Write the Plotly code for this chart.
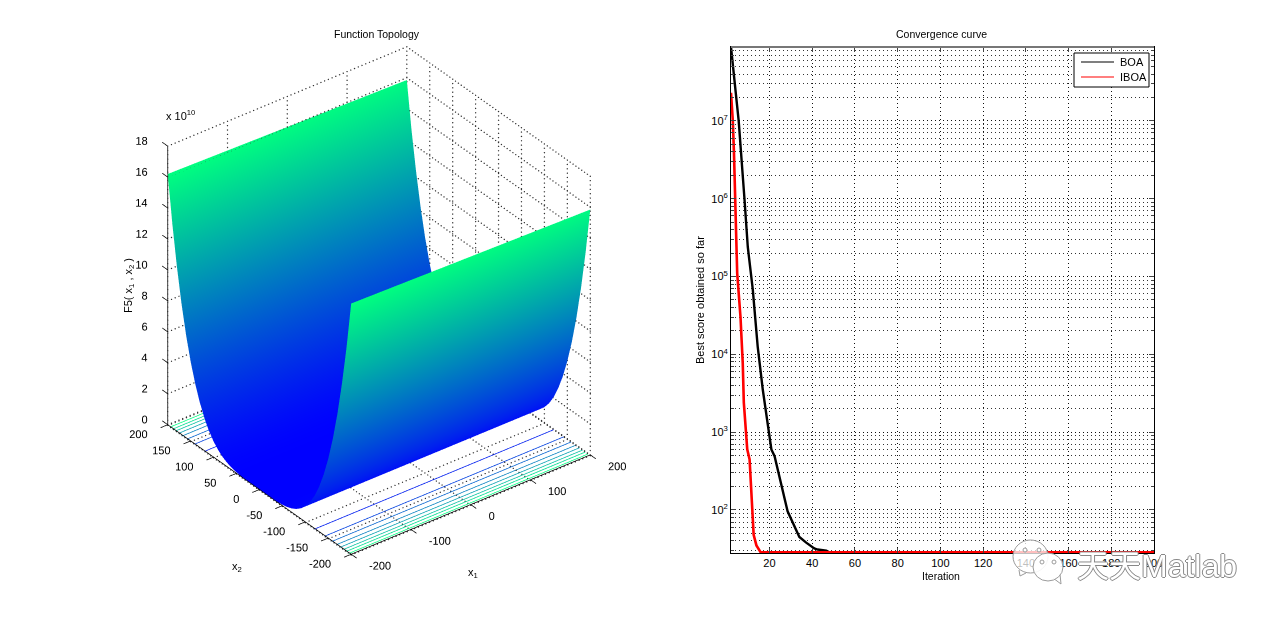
import math
import plotly.graph_objects as go

# ---------- data ----------
x1_range = [-200, 200]
x2_grid = [-200,-190,-180,-170,-160,-150,-140,-130,-120,-110,-100,-90,-80,-70,-60,-50,-40,-30,-20,-10,0,
           10,20,30,40,50,60,70,80,90,100,110,120,130,140,150,160,170,180,190,200]
z_half = [16.0,13.03,10.5,8.35,6.55,5.06,3.84,2.86,2.07,1.46,1.0,0.656,0.41,0.24,0.13,0.0625,0.026,0.008,0.0016,0.0,0.0]
z_profile = z_half + z_half[-2::-1]
z_edge_shift = [0.2, -0.15]
x1_ticks = [-200, -100, 0, 100, 200]
x2_ticks = [-200, -150, -100, -50, 0, 50, 100, 150, 200]
z_ticks = [0, 2, 4, 6, 8, 10, 12, 14, 16, 18]
contour_x2 = [120, 142, 158, 168, 176, 183, 189, 195]
contour_level = [0.12, 0.25, 0.38, 0.5, 0.62, 0.75, 0.87, 1.0]

boa_x = [2, 3.8, 5.6, 8.3, 9.86, 12.2, 14.5, 16.9, 20, 20.9, 22.4, 24, 26.3, 28.5, 31, 34, 37.2, 41, 42.5, 46.6, 48, 200]
boa_y = [8.9e7, 3e7, 1e7, 1e6, 2.4e5, 6.8e4, 1.26e4, 3480, 870, 600, 490, 316, 165, 96, 68, 45, 38, 32, 31, 30, 28.5, 28.5]
iboa_x = [2, 2.85, 3.4, 3.9, 4.9, 6.45, 7.5, 8.0, 9.1, 9.6, 10.7, 11.5, 12, 12.6, 13.9, 15.9, 200]
iboa_y = [2.3e7, 1.0e7, 3.8e6, 1.4e6, 1.1e5, 3e4, 7.7e3, 2.4e3, 840, 600, 447, 200, 100, 48, 35, 28.5, 28.5]
series_names = ["BOA", "IBOA"]
series_colors = ["black", "red"]
y_decades = [2, 3, 4, 5, 6, 7]
y_minor_mult = [2, 3, 4, 5, 6, 7, 8, 9]
x_ticks = [20, 40, 60, 80, 100, 120, 140, 160, 180, 200]

# the page has an 8px body margin: the figure covers 1264x605 inside the window
FW, FH = 1264, 605
FONT = "Liberation Sans"
def px(x): return (x - 8) / FW
def py(y): return 1 - (y - 8) / FH

fig = go.Figure()

# ---------- surface ----------
winter = [[0, "rgb(0,0,255)"], [1, "rgb(0,255,128)"]]
zz = [[z + s * (z / 16.0) for s in z_edge_shift] for z in z_profile]
fig.add_trace(go.Surface(x=x1_range, y=x2_grid, z=zz, colorscale=winter, cmin=0, cmax=16.2, showscale=False,
                         lighting=dict(ambient=1, diffuse=0, specular=0, fresnel=0, roughness=1),
                         hoverinfo="skip", showlegend=False, scene="scene"))

def line3d(pairs, color="#000000", width=1):
    xs, ys, zs = [], [], []
    for (a, b) in pairs:
        xs += [a[0], b[0], None]; ys += [a[1], b[1], None]; zs += [a[2], b[2], None]
    fig.add_trace(go.Scatter3d(x=xs, y=ys, z=zs, mode="lines", line=dict(color=color, width=width),
                               hoverinfo="skip", showlegend=False, scene="scene"))

def dotted(pairs, n=64):
    xs, ys, zs = [], [], []
    for (a, b) in pairs:
        for i in range(n + 1):
            t = i / n
            xs.append(a[0] + (b[0] - a[0]) * t); ys.append(a[1] + (b[1] - a[1]) * t); zs.append(a[2] + (b[2] - a[2]) * t)
    fig.add_trace(go.Scatter3d(x=xs, y=ys, z=zs, mode="markers", marker=dict(color="#333333", size=0.8, line=dict(width=0)),
                               hoverinfo="skip", showlegend=False, scene="scene"))

# dotted grid on floor (just below the surface minimum) and the two back walls
FLOOR = -0.05
grid = []
for t in x1_ticks:
    grid.append(((t, -200, FLOOR), (t, 200, FLOOR)))
    grid.append(((t, 200, 0), (t, 200, 18)))
for t in x2_ticks:
    grid.append(((-200, t, FLOOR), (200, t, FLOOR)))
    grid.append(((200, t, 0), (200, t, 18)))
for t in z_ticks:
    grid.append(((-200, 200, t), (200, 200, t)))
    grid.append(((200, 200, t), (200, -200, t)))
dotted(grid)

# floor contours
for sign in (-1, 1):
    for v, lev in zip(contour_x2, contour_level):
        g = int(255 * lev); b = int(255 - 127 * lev)
        line3d([((-200, sign * v, FLOOR), (200, sign * v, FLOOR))], color=f"rgb(0,{g},{b})", width=1.5)

# axes lines and tick marks
axes = [((-200, 200, 0), (-200, 200, 18)), ((-200, 200, 0), (-200, -200, 0)), ((-200, -200, 0), (200, -200, 0))]
for t in z_ticks:
    axes.append(((-200, 200, t), (-200, 212, t)))
for t in x2_ticks:
    axes.append(((-200, t, 0), (-212, t, 0)))
for t in x1_ticks:
    axes.append(((t, -200, 0), (t, -212, 0)))
line3d(axes, width=1.5)

def labels3d(xs, ys, zs, texts, pos):
    fig.add_trace(go.Scatter3d(x=xs, y=ys, z=zs, mode="text", text=texts, textposition=pos,
                               textfont=dict(family=FONT, size=11, color="black"),
                               hoverinfo="skip", showlegend=False, scene="scene"))

labels3d([-216] * len(z_ticks), [200] * len(z_ticks), [t + 0.6 for t in z_ticks], [str(t) for t in z_ticks], "middle left")
labels3d([-216] * len(x2_ticks), x2_ticks, [-0.35] * len(x2_ticks), [str(t) for t in x2_ticks], "middle left")
labels3d(x1_ticks, [-216] * len(x1_ticks), [-0.4] * len(x1_ticks), [str(t) for t in x1_ticks], "middle right")

# ---------- convergence curves ----------
fig.add_trace(go.Scatter(x=boa_x, y=boa_y, mode="lines", name=series_names[0], line=dict(color=series_colors[0], width=2.4),
                         cliponaxis=False, showlegend=False, xaxis="x", yaxis="y"))
fig.add_trace(go.Scatter(x=iboa_x, y=iboa_y, mode="lines", name=series_names[1], line=dict(color=series_colors[1], width=2.6),
                         cliponaxis=False, showlegend=False, xaxis="x", yaxis="y"))

y_tickvals = [10 ** d for d in y_decades]
y_ticktext = [f"10<sup>{d}</sup>" for d in y_decades]
y_minor = [m * 10 ** d for d in [1] + y_decades for m in y_minor_mult]

invis = dict(visible=False, showgrid=False, zeroline=False, showspikes=False)
el = math.radians(32.8); az = math.radians(37.5); r = 2.105
fig.update_layout(
    width=FW, height=FH, autosize=False,
    paper_bgcolor="white", plot_bgcolor="white",
    margin=dict(l=0, r=0, t=0, b=0),
    font=dict(family=FONT, size=11, color="black"),
    scene=dict(
        domain=dict(x=[px(8.5), px(748.5)], y=[py(590.5), py(9.5)]),
        xaxis=dict(range=[-300, 300], **invis),
        yaxis=dict(range=[-300, 300], **invis),
        zaxis=dict(range=[-4, 22], **invis),
        aspectmode="manual", aspectratio=dict(x=1.556, y=1.556, z=1.648),
        bgcolor="rgba(0,0,0,0)",
        camera=dict(projection=dict(type="orthographic"), up=dict(x=0, y=0, z=1), center=dict(x=0, y=0, z=0),
                    eye=dict(x=-r * math.cos(el) * math.sin(az), y=-r * math.cos(el) * math.cos(az), z=r * math.sin(el))),
    ),
    xaxis=dict(domain=[px(731), px(1154)], range=[2, 200], tickvals=x_ticks, ticks="inside", ticklen=5,
               showline=True, linecolor="black", linewidth=1, mirror="ticks", showgrid=True, griddash="1px,3px",
               gridcolor="#111111", gridwidth=1, zeroline=False, tickfont=dict(size=11), automargin=False, anchor="y"),
    yaxis=dict(domain=[py(553), py(47)], type="log", range=[1.447, 7.95], tickvals=y_tickvals, ticktext=y_ticktext,
               ticks="inside", ticklen=5, showline=True, linecolor="black", linewidth=1, mirror="ticks",
               showgrid=True, griddash="1px,3px", gridcolor="#111111", gridwidth=1, zeroline=False, tickfont=dict(size=11),
               minor=dict(tickmode="array", tickvals=y_minor, ticks="inside", ticklen=3, showgrid=True, griddash="1px,3px",
                          gridcolor="#333333", gridwidth=1),
               automargin=False, anchor="x"),
    showlegend=False,
)

def note(x, y, text, size=10.5, angle=0, xanchor="center"):
    fig.add_annotation(x=px(x), y=py(y), xref="paper", yref="paper", text=text, showarrow=False, xanchor=xanchor, yanchor="middle",
                       font=dict(family=FONT, size=size, color="black"), textangle=angle)

note(377, 34, "Function Topology")
note(941, 34, "Convergence curve")
note(941, 576, "Iteration")
note(700, 300, "Best score obtained so far", size=11, angle=-90)
note(129, 286, "F5(&nbsp;x<sub>1</sub>&nbsp;,&nbsp;x<sub>2</sub>&nbsp;)", size=11, angle=-90)
note(473, 573, "x<sub>1</sub>", size=11)
note(237, 567, "x<sub>2</sub>", size=11)
note(180, 115, "x 10<sup>10</sup>", size=11)

# top frame of the right axes
fig.add_shape(type="line", xref="paper", yref="paper", x0=px(731), x1=px(1154), y0=py(47), y1=py(47), line=dict(color="#777777", width=2), layer="above")

# legend box
fig.add_shape(type="rect", xref="paper", yref="paper", x0=px(1074), x1=px(1149), y0=py(87), y1=py(53),
              line=dict(color="black", width=1), fillcolor="white", layer="above")
for name, color, yy in zip(series_names, series_colors, [62, 77]):
    fig.add_shape(type="line", xref="paper", yref="paper", x0=px(1081), x1=px(1114), y0=py(yy), y1=py(yy),
                  line=dict(color=color, width=1.2), layer="above")
    note(1118, yy, name, size=11, xanchor="left")

# ---------- watermark ----------
GREY = "#9a9a9a"
bubble = dict(xref="paper", yref="paper", line=dict(color=GREY, width=1), layer="above")
def tail(x0, y0, x1, y1, x2, y2):
    return f"M {px(x0)} {py(y0)} L {px(x1)} {py(y1)} L {px(x2)} {py(y2)}"
fig.add_shape(type="path", path=tail(1019, 570, 1020, 576, 1026, 573), fillcolor="rgba(255,255,255,0.8)", **bubble)
fig.add_shape(type="circle", x0=px(1013), x1=px(1048), y0=py(573), y1=py(540), fillcolor="rgba(255,255,255,0.75)", **bubble)
fig.add_shape(type="path", path=tail(1053, 578, 1061, 584, 1060, 574), fillcolor="rgba(255,255,255,0.9)", **bubble)
fig.add_shape(type="circle", x0=px(1033), x1=px(1063), y0=py(581), y1=py(553), fillcolor="rgba(255,255,255,0.9)", **bubble)
for cx, cy in [(1025, 550), (1039, 550), (1042, 562), (1054, 562)]:
    fig.add_shape(type="circle", x0=px(cx - 2), x1=px(cx + 2), y0=py(cy + 2), y1=py(cy - 2), fillcolor="white", **bubble)
fig.add_annotation(x=px(1157), y=py(566), xref="paper", yref="paper", text="天天Matlab", showarrow=False, xanchor="center", yanchor="middle",
                   font=dict(family="Liberation Sans, Noto Sans CJK SC", size=32, color="white",
                             shadow="-1px 0 #888, 1px 0 #888, 0 -1px #888, 0 1px #888"))

fig.write_html("out.html")
